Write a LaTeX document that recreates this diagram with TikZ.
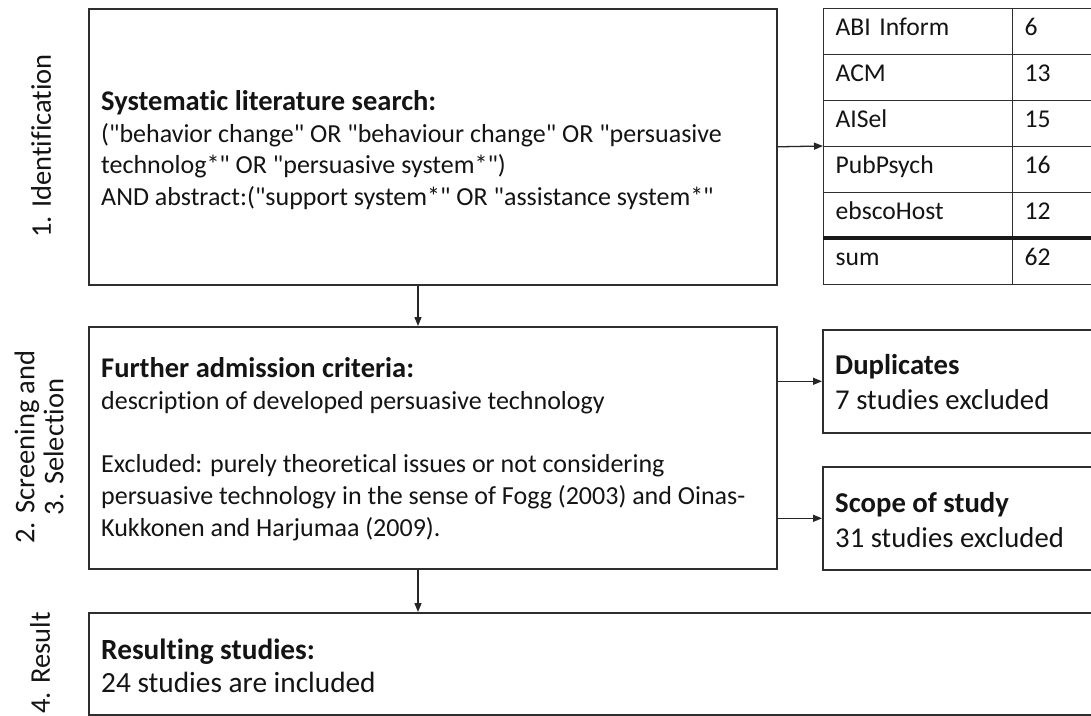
\documentclass[tikz,border=0pt]{standalone}
\usepackage{fontspec}
\setmainfont{Carlito}[Ligatures={TeXOff,CommonOff}]
\usetikzlibrary{arrows.meta,calc}
\newcommand{\hdA}[1]{{\fontsize{28.5}{31.7}\selectfont\bfseries #1}}
\begin{document}
\begin{tikzpicture}[x=1pt,y=-1pt,
  box/.style={draw=black!82, line width=1.6pt, inner sep=0pt, anchor=north west},
  txt/.style={anchor=west, align=left, inner sep=0pt, text=black!92},
  cell/.style={draw=black!82, line width=1.3pt, inner ysep=0pt, inner xsep=12pt, anchor=north west,
    minimum height=46pt, align=left, text height=0.85em, text depth=0.05em, text=black!92,
    font=\fontsize{25.6}{31}\selectfont},
  arr/.style={draw=black!85, line width=1.3pt, -{Triangle[length=9pt,width=7pt]}},
  lbl/.style={rotate=90, align=center, inner sep=0pt, text=black!92}
]
\useasboundingbox[fill=white] (0,0) rectangle (1091,715);

% main boxes
\node[box, minimum width=688pt, minimum height=276pt] (id) at (88,8) {};
\node[box, minimum width=688pt, minimum height=242pt] (sc) at (88,326) {};
\node[box, minimum width=1030pt, minimum height=102pt] (res) at (88,612) {};
\node[box, minimum width=300pt, minimum height=103pt] (dup) at (822,329) {};
\node[box, minimum width=300pt, minimum height=103pt] (scope) at (822,466) {};

% table
\foreach \i/\n/\v in {1/ABI Inform/6, 2/ACM/13, 3/AISel/15, 4/PubPsych/16, 5/ebscoHost/12, 6/sum/62}{
  \node[cell, text width=165pt] (a\i) at (823,{8+46*(\i-1)}) {\n};
  \node[cell, text width=76pt] (b\i) at (1012,{8+46*(\i-1)}) {\v};
}
\draw[draw=black!90, line width=4pt] (a6.north west) -- (b6.north east);

% texts
\node[txt, font=\fontsize{26}{31.7}\selectfont] (idt) at (101,150)
  {\hdA{Systematic literature search:}\\
   ("behavior change" OR "behaviour change" OR "persuasive\\
   technolog*" OR "persuasive system*")\\
   AND abstract:("support system*" OR "assistance system*"};
\node[txt, font=\fontsize{26}{31.7}\selectfont] (sct) at (101,449)
  {\hdA{Further admission criteria:}\\
   description of developed persuasive technology\\[31.7pt]
   Excluded: purely theoretical issues or not considering\\
   persuasive technology in the sense of Fogg (2003) and Oinas-\\
   Kukkonen and Harjumaa (2009).};
\node[txt, font=\fontsize{29.3}{33}\selectfont] (rest) at (101,666)
  {\textbf{Resulting studies:}\\ 24 studies are included};
\node[txt, font=\fontsize{28.7}{35}\selectfont] (dupt) at (835,382)
  {\textbf{Duplicates}\\ 7 studies excluded};
\node[txt, font=\fontsize{28.7}{35}\selectfont] (scopet) at (835,520)
  {\textbf{Scope of study}\\ 31 studies excluded};

% phase labels
\node[lbl, font=\fontsize{28.5}{33}\selectfont] (l1) at (41,146) {1. Identification};
\node[lbl, font=\fontsize{28.5}{29}\selectfont] (l2) at (39,447) {2. Screening and\\3. Selection};
\node[lbl, font=\fontsize{28.5}{33}\selectfont] (l3) at (40,663) {4. Result};

% connectors
\coordinate (ax) at (418,0);
\draw[arr] (id.south -| ax) -- (sc.north -| ax);
\draw[arr] (sc.south -| ax) -- (res.north -| ax);
\draw[arr] (id.east) -- (a4.north west);
\draw[arr] (sc.east |- dup.west) -- (dup.west);
\draw[arr] (sc.east |- scope.west) -- (scope.west);
\end{tikzpicture}
\end{document}
